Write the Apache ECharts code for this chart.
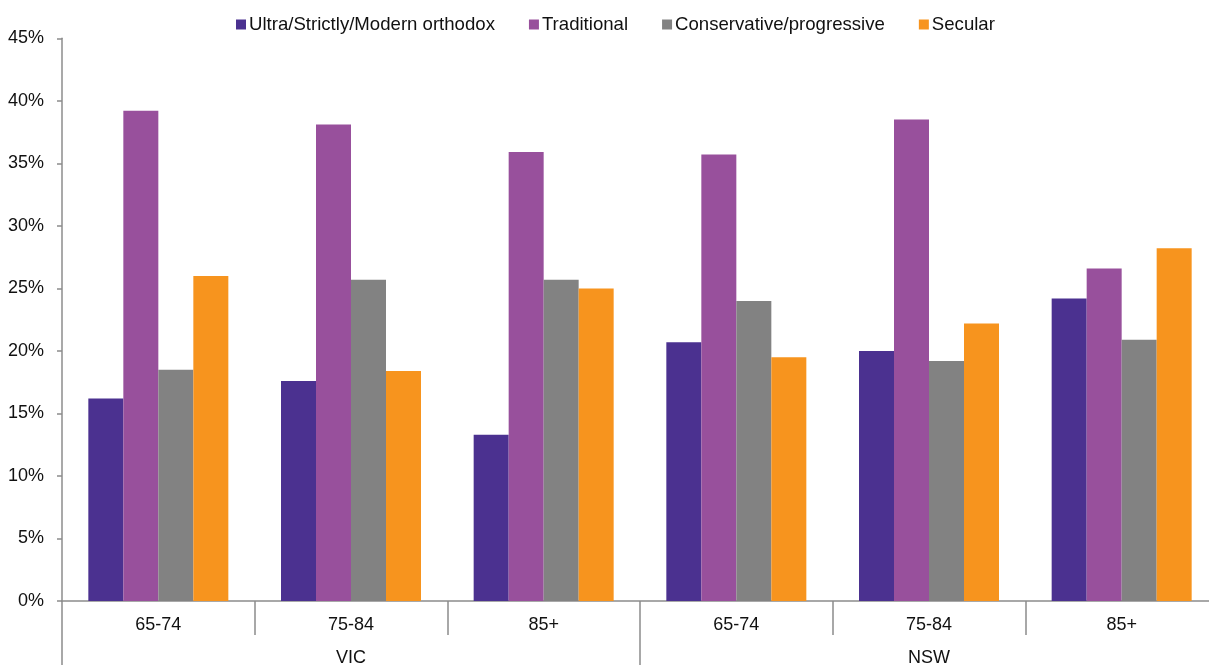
<!DOCTYPE html>
<html>
<head>
<meta charset="utf-8">
<script src="https://cdn.jsdelivr.net/npm/echarts@6/dist/echarts.min.js"></script>
<style>
html,body{margin:0;padding:0;background:#fff;}
#chart{width:1209px;height:665px;}
</style>
</head>
<body>
<div id="chart"></div>
<script>
const ageGroups = ['65-74', '75-84', '85+', '65-74', '75-84', '85+'];
const states = ['VIC', 'NSW'];
const seriesNames = ['Ultra/Strictly/Modern orthodox', 'Traditional', 'Conservative/progressive', 'Secular'];
const ultra = [16.2, 17.6, 13.3, 20.7, 20.0, 24.2];
const traditional = [39.2, 38.1, 35.9, 35.7, 38.5, 26.6];
const conservative = [18.5, 25.7, 25.7, 24.0, 19.2, 20.9];
const secular = [26.0, 18.4, 25.0, 19.5, 22.2, 28.2];
const yTicks = [0, 5, 10, 15, 20, 25, 30, 35, 40, 45];

const colors = ['#4B3190', '#98509C', '#828282', '#F7941E'];
const values = [ultra, traditional, conservative, secular];

const chart = echarts.init(document.getElementById('chart'));
const font = 'Liberation Sans, Arial, sans-serif';
chart.setOption({
  animation: false,
  color: colors,
  legend: {
    top: 10,
    left: 231,
    itemWidth: 10,
    itemHeight: 10,
    itemGap: 34,
    icon: 'rect',
    textStyle: { fontFamily: font, fontSize: 18.6, color: '#111', padding: [0, 0, 0, -2] },
    data: seriesNames
  },
  grid: { left: 62, top: 38.3, right: -9, bottom: 64, outerBoundsMode: 'none', containLabel: false },
  xAxis: [
    {
      type: 'category',
      data: ageGroups,
      position: 'bottom',
      axisLine: { lineStyle: { color: '#8c8c8c', width: 1.5 } },
      axisTick: { show: true, interval: 0, length: 34, lineStyle: { color: '#8c8c8c', width: 1.5 } },
      axisLabel: { interval: 0, margin: 15, fontFamily: font, fontSize: 18, color: '#111' }
    },
    {
      type: 'category',
      data: states,
      position: 'bottom',
      axisLine: { show: false },
      axisTick: { show: true, interval: 0, length: 64, lineStyle: { color: '#8c8c8c', width: 1.5 } },
      axisLabel: { interval: 0, margin: 48, fontFamily: font, fontSize: 18, color: '#111' }
    }
  ],
  yAxis: {
    type: 'value',
    min: yTicks[0],
    max: yTicks[yTicks.length - 1],
    interval: 5,
    splitLine: { show: false },
    axisLine: { show: true, lineStyle: { color: '#8c8c8c', width: 1.5 } },
    axisTick: { show: true, length: 5, lineStyle: { color: '#8c8c8c', width: 1.5 } },
    axisLabel: { margin: 18, fontFamily: font, fontSize: 18, color: '#111', formatter: v => v + '%' }
  },
  series: seriesNames.map((name, i) => ({
    name: name,
    type: 'bar',
    xAxisIndex: 0,
    data: values[i],
    barWidth: 35,
    barGap: '0%',
    itemStyle: { color: colors[i] }
  }))
});
</script>
</body>
</html>
